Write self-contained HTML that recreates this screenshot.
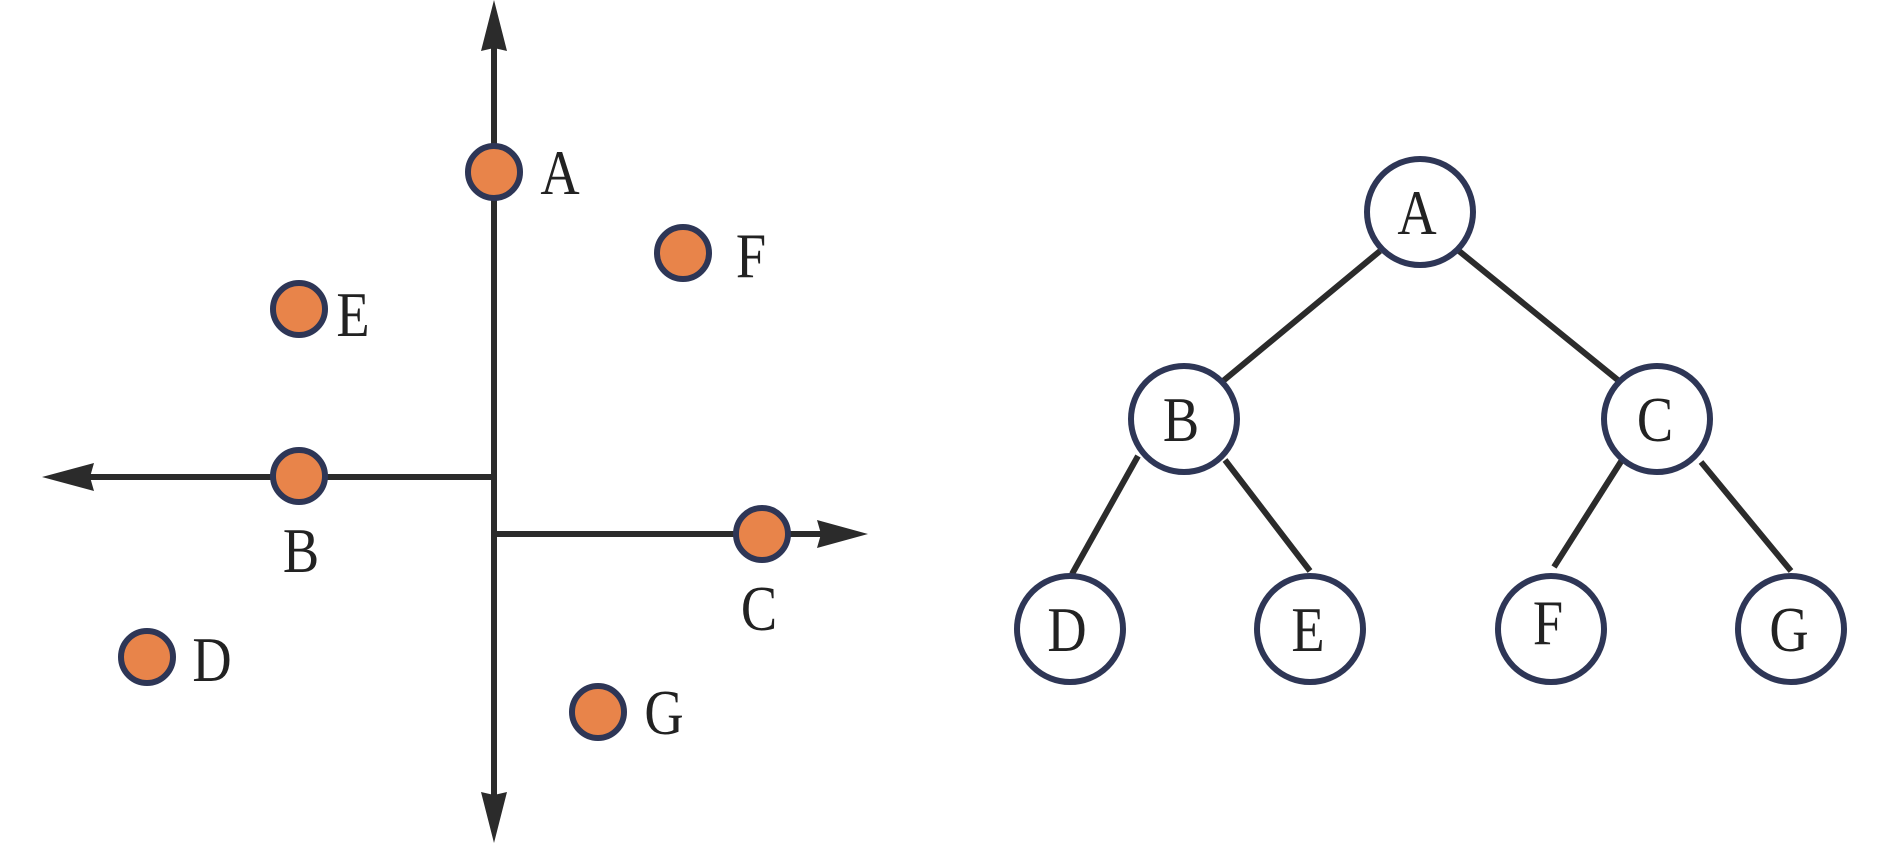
<!DOCTYPE html>
<html><head><meta charset="utf-8">
<style>html,body{margin:0;padding:0;background:#fff;}svg{display:block}
text{font-family:"Liberation Serif",serif;font-size:64px;fill:#222;text-anchor:middle}</style>
</head><body>
<svg width="1890" height="843" viewBox="0 0 1890 843" xmlns="http://www.w3.org/2000/svg">
<g stroke="#2b2b2b" stroke-width="6" fill="none">
  <line x1="494" y1="40" x2="494" y2="805"/>
  <line x1="90" y1="477" x2="491" y2="477"/>
  <line x1="497" y1="534" x2="822" y2="534"/>
</g>
<g fill="#2b2b2b">
  <polygon points="494,0 481,51 494,48 507,51"/>
  <polygon points="494,843 481,792 494,795 507,792"/>
  <polygon points="42,477 94,463 90,477 94,491"/>
  <polygon points="868,534 817,520 821,534 817,548"/>
</g>
<g fill="#E8844A" stroke="#2E3656" stroke-width="6">
  <circle cx="494" cy="172" r="26"/>
  <circle cx="683" cy="253" r="26"/>
  <circle cx="299" cy="309" r="26"/>
  <circle cx="299" cy="476" r="26"/>
  <circle cx="762" cy="534" r="26"/>
  <circle cx="147" cy="657" r="26"/>
  <circle cx="598" cy="712" r="26"/>
</g>
<g>
  <text transform="translate(560,194) scale(0.85,1)">A</text>
  <text transform="translate(751,277) scale(0.85,1)">F</text>
  <text transform="translate(353,336) scale(0.85,1)">E</text>
  <text transform="translate(301,572) scale(0.85,1)">B</text>
  <text transform="translate(759,630) scale(0.85,1)">C</text>
  <text transform="translate(212,681) scale(0.85,1)">D</text>
  <text transform="translate(664,734) scale(0.85,1)">G</text>
</g>
<g stroke="#2b2b2b" stroke-width="6">
  <line x1="1380" y1="251" x2="1223" y2="381"/>
  <line x1="1459" y1="251" x2="1619" y2="381"/>
  <line x1="1138" y1="456" x2="1072" y2="574"/>
  <line x1="1225" y1="460" x2="1310" y2="571"/>
  <line x1="1622" y1="460" x2="1554" y2="567"/>
  <line x1="1701" y1="462" x2="1791" y2="571"/>
</g>
<g fill="#fff" stroke="#2E3656" stroke-width="6">
  <circle cx="1420" cy="212" r="53"/>
  <circle cx="1184" cy="419" r="53"/>
  <circle cx="1657" cy="419" r="53"/>
  <circle cx="1070" cy="629" r="53"/>
  <circle cx="1310" cy="629" r="53"/>
  <circle cx="1551" cy="629" r="53"/>
  <circle cx="1791" cy="629" r="53"/>
</g>
<g>
  <text transform="translate(1417,234) scale(0.85,1)">A</text>
  <text transform="translate(1181,441) scale(0.85,1)">B</text>
  <text transform="translate(1655,441) scale(0.85,1)">C</text>
  <text transform="translate(1067,651) scale(0.85,1)">D</text>
  <text transform="translate(1308,651) scale(0.85,1)">E</text>
  <text transform="translate(1548,644) scale(0.85,1)">F</text>
  <text transform="translate(1789,651) scale(0.85,1)">G</text>
</g>
</svg>
</body></html>
